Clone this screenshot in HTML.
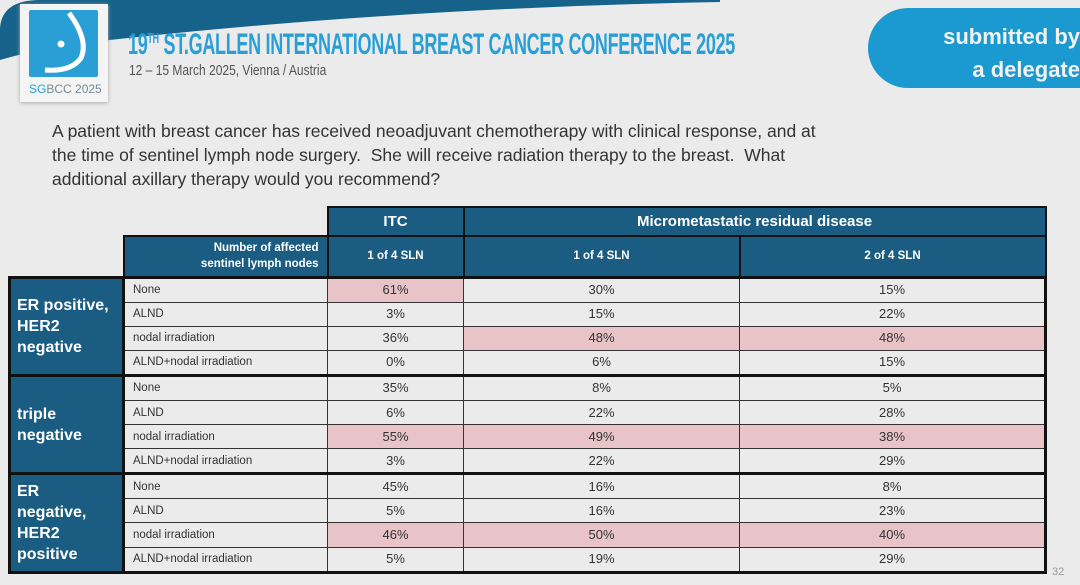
<!DOCTYPE html>
<html><head><meta charset="utf-8"><style>
body{margin:0;width:1080px;height:585px;overflow:hidden;background:#ebebeb;font-family:"Liberation Sans",sans-serif;position:relative}
.abs{position:absolute}
table{position:absolute;left:8px;top:206px;border-collapse:collapse;table-layout:fixed;width:1036px}
td{border:1px solid #333;padding:0;font-size:13px;color:#333;text-align:center;height:23.1px;line-height:14px}
td.l{text-align:left;padding-left:8px;font-size:11.5px}
.h{background:#1b5d82;color:#fff;font-weight:bold;border:2.5px solid #111}
.g{background:#1b5d82;color:#fff;font-weight:bold;font-size:16px;text-align:left;padding-left:6px;line-height:21px;border:3px solid #111}
.p{background:#e8c3c8}
tr.top td{border-top:3px solid #111}
td.re{border-right:3px solid #111}
tr.bot td{border-bottom:3px solid #111}
td.lt{border-left:3px solid #111}
</style></head><body>
<svg class="abs" style="left:0;top:0" width="720" height="60"><path d="M0 60 L0 28 Q2 0 40 0 L720 0 L720 2 Q400 8 110 40 Q40 48 0 60Z" fill="#17628a"/></svg>
<div class="abs" style="left:20px;top:4px;width:88px;height:98px;background:#f4f4f4;box-shadow:0 1px 4px #aaa"></div>
<div class="abs" style="left:29px;top:10px;width:69px;height:67px;background:#2a9fd6;border-radius:2px"></div>
<svg class="abs" style="left:29px;top:10px" width="69" height="67"><path d="M40 3 Q60 30 52 48 Q42 62 16 60" stroke="#fff" stroke-width="5" fill="none"/><circle cx="32" cy="34" r="3.5" fill="#fff"/></svg>
<div class="abs" style="left:29px;top:82px;font-size:12px;color:#7a8a96"><b style="color:#2a9fd6;font-weight:normal">SG</b>BCC 2025</div>
<div class="abs" style="left:128px;top:28px;font-family:'Liberation Sans Narrow','Liberation Sans',sans-serif;font-weight:bold;font-size:30px;color:#2a9fd6;transform:scaleX(0.6);transform-origin:0 0;white-space:nowrap;letter-spacing:-0.5px">19<sup style="font-size:15px">TH</sup> ST.GALLEN INTERNATIONAL BREAST CANCER CONFERENCE 2025</div>
<div class="abs" style="left:129px;top:62px;font-family:'Liberation Sans Narrow','Liberation Sans',sans-serif;font-size:15px;color:#555;transform:scaleX(0.8);transform-origin:0 0;white-space:nowrap">12 – 15 March 2025, Vienna / Austria</div>
<div class="abs" style="left:868px;top:8px;width:260px;height:80px;background:#1a9ad0;border-radius:40px"></div>
<div class="abs" style="left:900px;top:20px;width:180px;color:#f2f2f2;font-weight:bold;font-size:22px;line-height:33px;text-align:right;white-space:nowrap">submitted by<br>a delegate</div>
<div class="abs" style="left:52px;top:119px;font-size:17.5px;line-height:24px;color:#333;width:1000px">A patient with breast cancer has received neoadjuvant chemotherapy with clinical response, and at<br>the time of sentinel lymph node surgery.&nbsp; She will receive radiation therapy to the breast.&nbsp; What<br>additional axillary therapy would you recommend?</div>
<table>
<colgroup><col style="width:114px"><col style="width:204px"><col style="width:136px"><col style="width:276px"><col style="width:306px"></colgroup>
<tr style="height:29px"><td style="border:none"></td><td style="border:none;border-bottom:2.5px solid #111"></td><td class="h" style="font-size:15px">ITC</td><td class="h" colspan="2" style="font-size:15px">Micrometastatic residual disease</td></tr>
<tr style="height:41px"><td style="border:none;border-bottom:3px solid #111"></td><td class="h" style="text-align:right;padding-right:8px;font-size:11.5px;line-height:16px">Number of affected<br>sentinel lymph nodes</td><td class="h" style="font-size:11.5px">1 of 4 SLN</td><td class="h" style="font-size:11.5px">1 of 4 SLN</td><td class="h" style="font-size:11.5px">2 of 4 SLN</td></tr>
<tr class="top"><td class="g" rowspan="4">ER positive,<br>HER2<br>negative</td><td class="l lt">None</td><td class="p">61%</td><td>30%</td><td class="re">15%</td></tr>
<tr><td class="l lt">ALND</td><td>3%</td><td>15%</td><td class="re">22%</td></tr>
<tr><td class="l lt">nodal irradiation</td><td>36%</td><td class="p">48%</td><td class="p re">48%</td></tr>
<tr class="bot"><td class="l lt">ALND+nodal irradiation</td><td>0%</td><td>6%</td><td class="re">15%</td></tr>
<tr class="top"><td class="g" rowspan="4">triple<br>negative</td><td class="l lt">None</td><td>35%</td><td>8%</td><td class="re">5%</td></tr>
<tr><td class="l lt">ALND</td><td>6%</td><td>22%</td><td class="re">28%</td></tr>
<tr><td class="l lt">nodal irradiation</td><td class="p">55%</td><td class="p">49%</td><td class="p re">38%</td></tr>
<tr class="bot"><td class="l lt">ALND+nodal irradiation</td><td>3%</td><td>22%</td><td class="re">29%</td></tr>
<tr class="top"><td class="g" rowspan="4">ER<br>negative,<br>HER2<br>positive</td><td class="l lt">None</td><td>45%</td><td>16%</td><td class="re">8%</td></tr>
<tr><td class="l lt">ALND</td><td>5%</td><td>16%</td><td class="re">23%</td></tr>
<tr><td class="l lt">nodal irradiation</td><td class="p">46%</td><td class="p">50%</td><td class="p re">40%</td></tr>
<tr class="bot"><td class="l lt">ALND+nodal irradiation</td><td>5%</td><td>19%</td><td class="re">29%</td></tr>
</table>
<div class="abs" style="left:1052px;top:566px;font-size:11px;color:#999">32</div>
</body></html>
